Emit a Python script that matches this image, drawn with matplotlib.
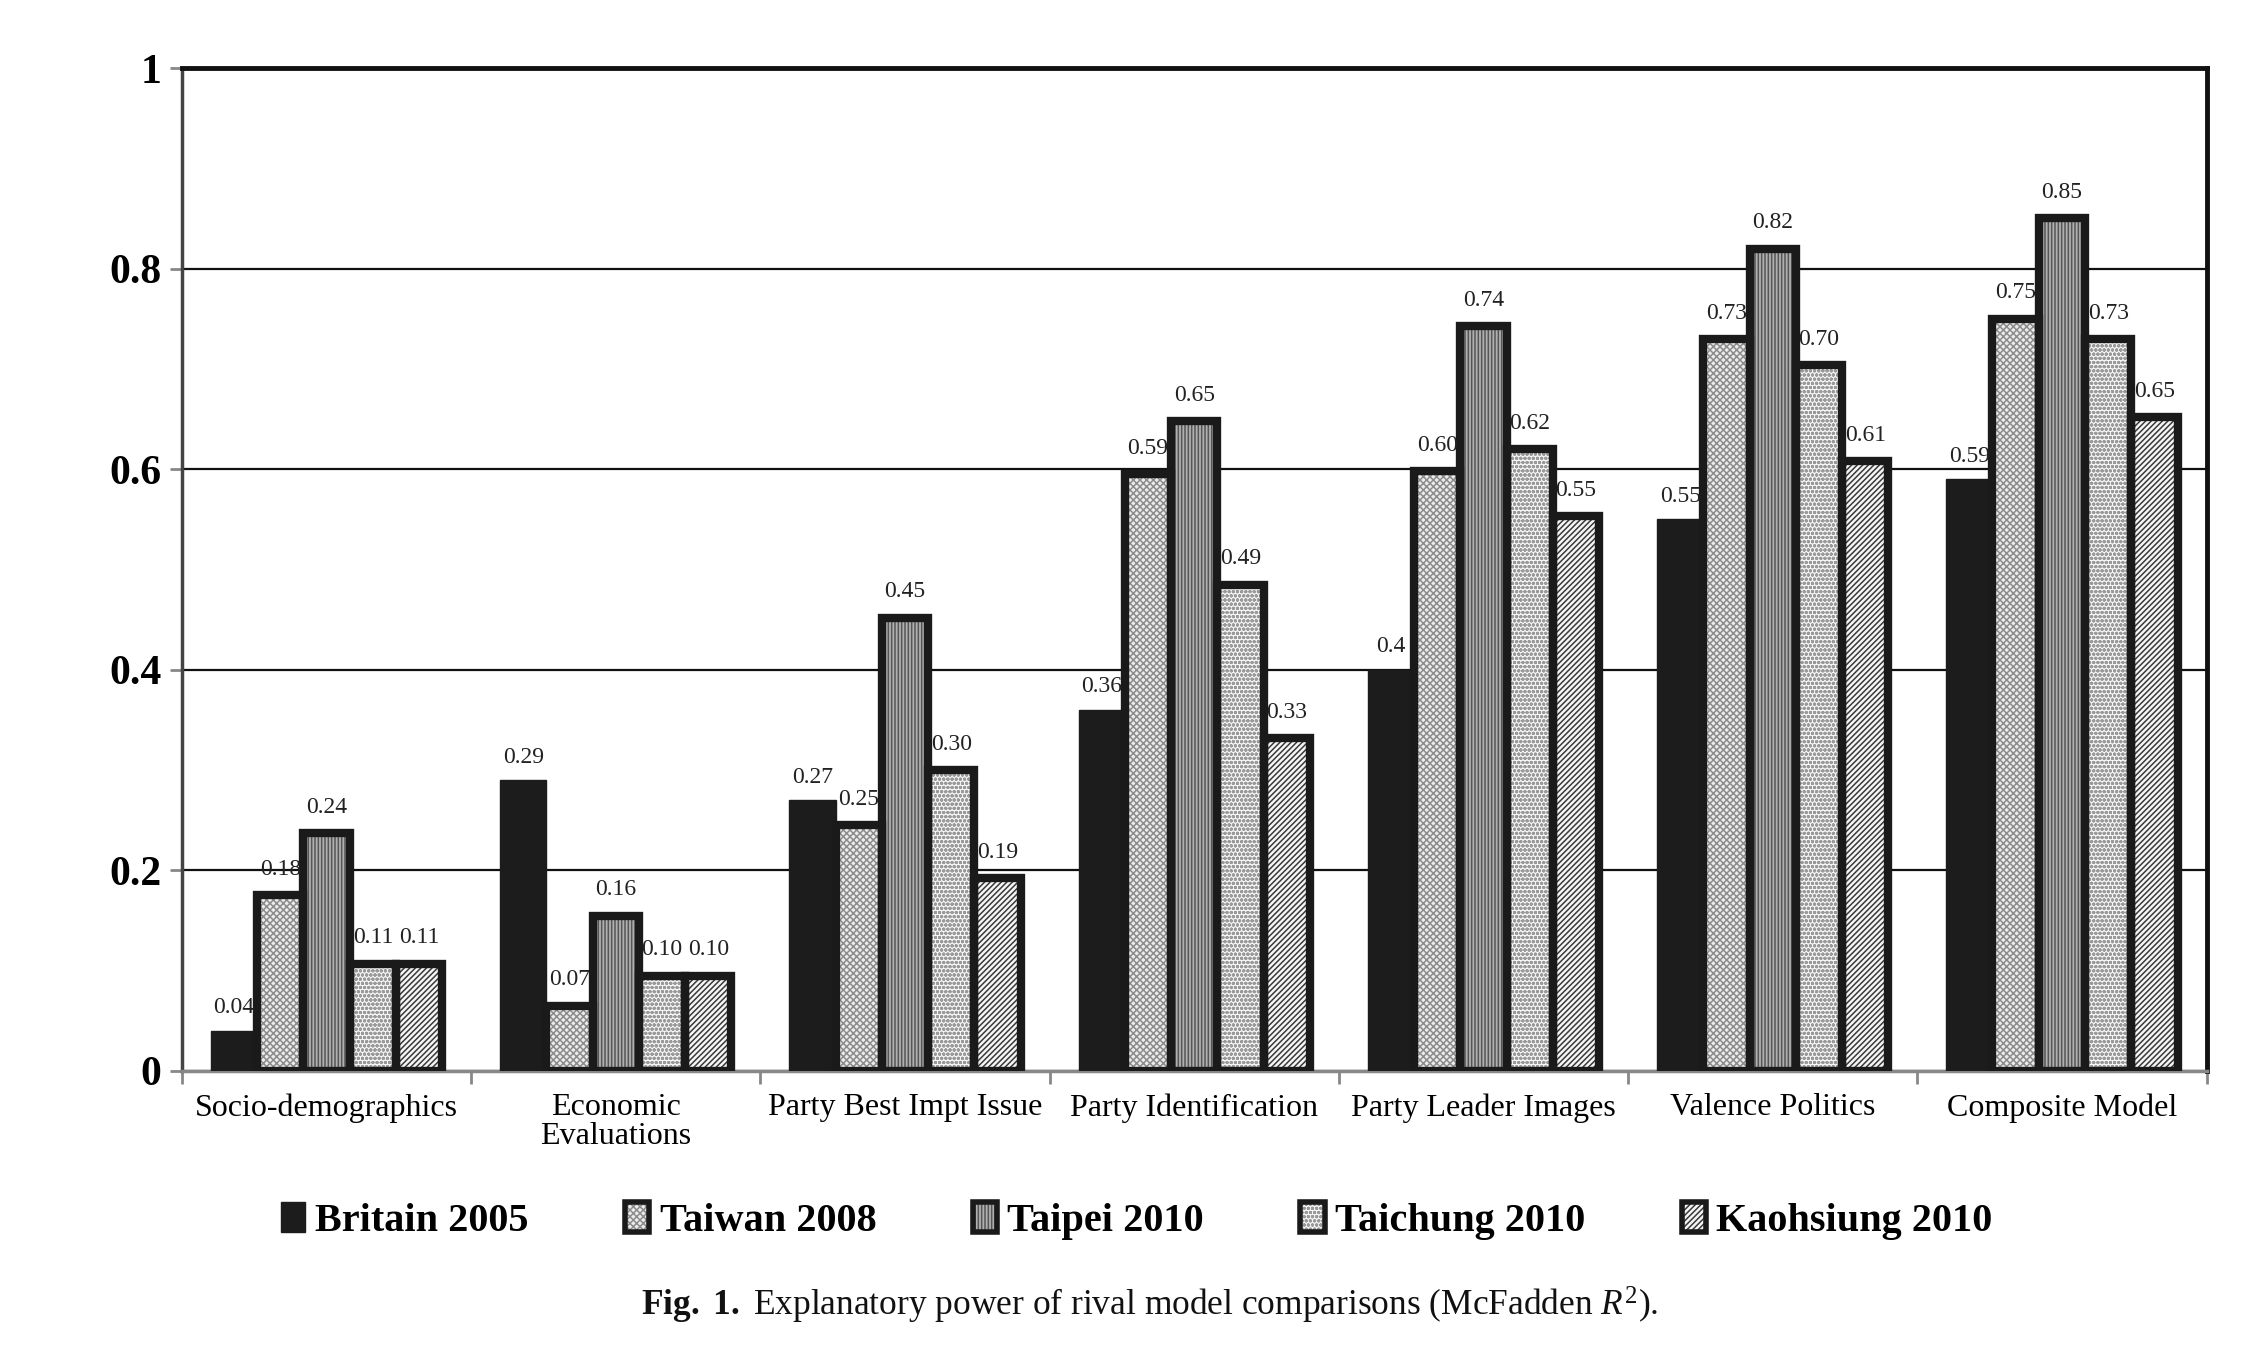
import numpy as np
import matplotlib
matplotlib.use("Agg")
import matplotlib.pyplot as plt
from matplotlib.patches import Patch

plt.rcParams['font.family'] = ['Liberation Serif', 'DejaVu Serif']
plt.rcParams['mathtext.fontset'] = 'custom'
plt.rcParams['mathtext.rm'] = 'Liberation Serif'
plt.rcParams['mathtext.it'] = 'Liberation Serif:italic'
plt.rcParams['mathtext.bf'] = 'Liberation Serif:bold'
plt.rcParams['hatch.linewidth'] = 1.1

#%% data

categories = ['Socio-demographics', 'Economic\nEvaluations', 'Party Best Impt Issue',
              'Party Identification', 'Party Leader Images', 'Valence Politics',
              'Composite Model']
series = ['Britain 2005', 'Taiwan 2008', 'Taipei 2010', 'Taichung 2010', 'Kaohsiung 2010']

britain = [0.04, 0.29, 0.27, 0.36, 0.40, 0.55, 0.59]
taiwan = [0.175, 0.065, 0.245, 0.595, 0.598, 0.73, 0.75]
taipei = [0.237, 0.155, 0.452, 0.648, 0.743, 0.82, 0.85]
taichung = [0.107, 0.095, 0.30, 0.485, 0.62, 0.704, 0.73]
kaohsiung = [0.107, 0.095, 0.192, 0.332, 0.553, 0.608, 0.652]

britain_lbl = ['0.04', '0.29', '0.27', '0.36', '0.4', '0.55', '0.59']
taiwan_lbl = ['0.18', '0.07', '0.25', '0.59', '0.60', '0.73', '0.75']
taipei_lbl = ['0.24', '0.16', '0.45', '0.65', '0.74', '0.82', '0.85']
taichung_lbl = ['0.11', '0.10', '0.30', '0.49', '0.62', '0.70', '0.73']
kaohsiung_lbl = ['0.11', '0.10', '0.19', '0.33', '0.55', '0.61', '0.65']

values = [britain, taiwan, taipei, taichung, kaohsiung]
labels = [britain_lbl, taiwan_lbl, taipei_lbl, taichung_lbl, kaohsiung_lbl]

# fill, hatch, hatch colour
styles = [('#1c1c1c', '', '#1c1c1c'),
          ('#ececec', 'xxxxx', '#8c8c8c'),
          ('#b0b0b0', '|||||', '#555555'),
          ('#f6f6f6', 'oooo', '#9a9a9a'),
          ('#f6f6f6', '//////', '#3a3a3a')]

#%% plot

fig = plt.figure(figsize=(22.55, 13.5), dpi=100)
ax = fig.add_axes([0.0807, 0.2067, 0.8978, 0.7429])

x = np.arange(len(categories))
w = 0.16
edge = '#1a1a1a'

handles = []
for i, (vals, lbls) in enumerate(zip(values, labels)):
    pos = x - 0.4 + w * (i + 0.5)
    fc, hatch, hc = styles[i]
    if i == 0:
        ax.bar(pos, vals, width=w, color=fc, edgecolor=fc, linewidth=1, zorder=3)
        handles.append(Patch(facecolor=fc, edgecolor=fc, linewidth=1))
        off = 9
    else:
        ax.bar(pos, vals, width=w, color=fc, hatch=hatch, edgecolor=hc, linewidth=0, zorder=3)
        ax.bar(pos, vals, width=w, color='none', edgecolor=edge, linewidth=6, zorder=4)
        handles.append((Patch(facecolor=fc, hatch=hatch, edgecolor=hc, linewidth=0),
                        Patch(facecolor='none', edgecolor=edge, linewidth=4)))
        off = 11
    for px, v, t in zip(pos, vals, lbls):
        ax.annotate(t, (px, v), xytext=(0, off), textcoords='offset points',
                    ha='center', va='bottom', fontsize=17, color='#222222', zorder=5)

ax.set_xlim(-0.5, len(categories) - 0.5)
ax.set_ylim(0, 1)
ax.set_yticks([0, 0.2, 0.4, 0.6, 0.8, 1])
ax.set_yticklabels(['0', '0.2', '0.4', '0.6', '0.8', '1'], fontsize=30, fontweight='bold')
ax.yaxis.grid(True, color='#111111', linewidth=1.6, zorder=0)
ax.set_axisbelow(True)

ax.set_xticks(x)
ax.set_xticklabels(categories, fontsize=23, linespacing=1.0)
ax.set_xticks(np.arange(-0.5, len(categories)), minor=True)
ax.tick_params(axis='x', which='major', length=0, pad=16)
ax.tick_params(axis='x', which='minor', length=9, width=2, color='#888888', direction='out')
ax.tick_params(axis='y', length=9, width=2, color='#888888', direction='out', pad=6)

for s in ['top', 'right']:
    ax.spines[s].set_color('#111111')
    ax.spines[s].set_linewidth(3.5)
ax.spines['left'].set_color('#444444')
ax.spines['left'].set_linewidth(2.5)
ax.spines['bottom'].set_color('#888888')
ax.spines['bottom'].set_linewidth(2.5)

fig.legend(handles, series, loc='center', bbox_to_anchor=(0.504, 0.0956), ncol=5,
           frameon=False, prop={'size': 29, 'weight': 'bold'},
           handlelength=0.6, handleheight=0.75, handletextpad=0.25, columnspacing=2.4)

fig.text(0.51, 0.033, r'$\mathbf{Fig.\ 1.}$ Explanatory power of rival model comparisons (McFadden $R^2$).',
         ha='center', va='center', fontsize=25.5, color='#111111')

plt.savefig('out.png', dpi=100)
